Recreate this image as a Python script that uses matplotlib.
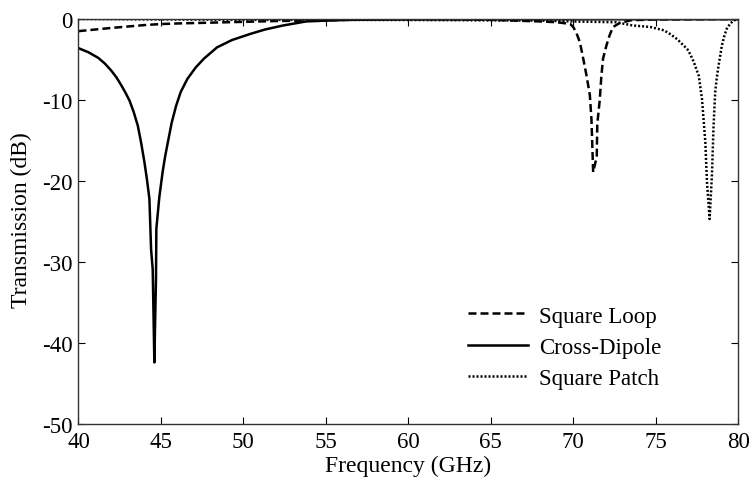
import matplotlib
matplotlib.use("Agg")
import matplotlib.pyplot as plt
import numpy as np

plt.rcParams['font.family'] = ['Liberation Serif', 'DejaVu Serif']
plt.rcParams['axes.unicode_minus'] = False

# Square Loop (dashed)
loop_f = [40, 42, 44, 45, 46, 48, 50, 52, 55, 58, 60, 65, 68, 69, 69.8, 70.0, 70.2,
          70.4, 70.6, 70.8, 71.0, 71.1, 71.2, 71.42, 71.45, 71.6, 71.7, 71.8, 72.0,
          72.2, 72.4, 72.8, 73.5, 75, 80]
loop_db = [-1.5, -1.1, -0.75, -0.62, -0.55, -0.45, -0.35, -0.25, -0.15, -0.05, 0.0,
           -0.1, -0.3, -0.4, -0.6, -1.0, -1.8, -2.9, -4.9, -7.0, -9.4, -12.5, -18.9,
           -17.0, -13.0, -10.0, -7.0, -4.9, -3.3, -2.0, -1.0, -0.5, -0.15, -0.05, 0.0]

# Cross-Dipole (solid)
dip_f = [40, 40.6, 41.2, 41.6, 42.0, 42.3, 42.6, 42.85, 43.1, 43.35, 43.6, 43.8,
         44.0, 44.15, 44.3, 44.4, 44.5, 44.6, 44.65, 44.7, 44.72, 44.9, 45.1, 45.25,
         45.42, 45.65, 45.92, 46.2, 46.6, 47.1, 47.6, 48.4, 49.3, 50.4, 51.3, 52.4,
         53.8, 55, 56.4, 60, 70, 80]
dip_db = [-3.6, -4.1, -4.8, -5.5, -6.4, -7.2, -8.2, -9.1, -10.1, -11.5, -13.2, -15.3,
          -17.7, -19.8, -22.2, -28.4, -30.9, -42.4, -37.0, -32.0, -25.9, -22.0, -18.9,
          -17.0, -15.2, -12.8, -10.7, -9.0, -7.4, -6.0, -4.9, -3.5, -2.6, -1.85, -1.3,
          -0.8, -0.3, -0.2, -0.1, -0.05, -0.03, -0.02]

# Square Patch (dotted)
patch_f = [40, 45, 50, 60, 68, 70, 72.6, 73.6, 74.2, 74.7, 75.5, 75.9, 76.3, 76.9,
           77.1, 77.3, 77.6, 77.8, 78.0, 78.1, 78.26, 78.4, 78.5, 78.6, 78.7, 78.8,
           79.0, 79.15, 79.3, 79.5, 79.7, 80]
patch_db = [0.0, -0.05, -0.1, -0.12, -0.2, -0.3, -0.4, -0.8, -0.9, -1.0, -1.4, -1.9,
            -2.5, -3.7, -4.4, -5.3, -7.0, -9.9, -15.2, -20.1, -24.7, -19.3, -13.2,
            -9.0, -7.2, -5.8, -3.3, -2.1, -1.2, -0.6, -0.2, 0.0]

fig = plt.figure(figsize=(7.51, 4.81), dpi=100)
ax = fig.add_axes([0.1045, 0.1164, 0.8786, 0.842])

ax.plot(loop_f, loop_db, color='black', lw=1.8, linestyle=(0, (3.2, 1.6)), label='Square Loop')
ax.plot(dip_f, dip_db, color='black', lw=1.8, linestyle='-', label='Cross-Dipole')
ax.plot(patch_f, patch_db, color='black', lw=1.8, linestyle=(0, (0.8, 0.8)), label='Square Patch')

ax.set_xlim(40, 80)
ax.set_ylim(-50, 0)
ax.set_xticks(np.arange(40, 81, 5))
ax.set_yticks(np.arange(-50, 1, 10))
ax.tick_params(direction='in', top=True, right=True, length=5, width=0.8,
               labelsize=16.5)
ax.tick_params(axis='x', pad=5)
ax.tick_params(axis='y', pad=4)
for s in ax.spines.values():
    s.set_color('#333333')
    s.set_linewidth(1.0)

ax.set_xlabel('Frequency (GHz)', fontsize=17, labelpad=2)
ax.set_ylabel('Transmission (dB)', fontsize=17)
ax.yaxis.set_label_coords(-0.0706, 0.505)

ax.legend(loc='lower right', bbox_to_anchor=(0.915, 0.035), frameon=False,
          fontsize=16.5, handlelength=2.6, handletextpad=0.5, labelspacing=0.45)

fig.savefig('out.png', dpi=100)
